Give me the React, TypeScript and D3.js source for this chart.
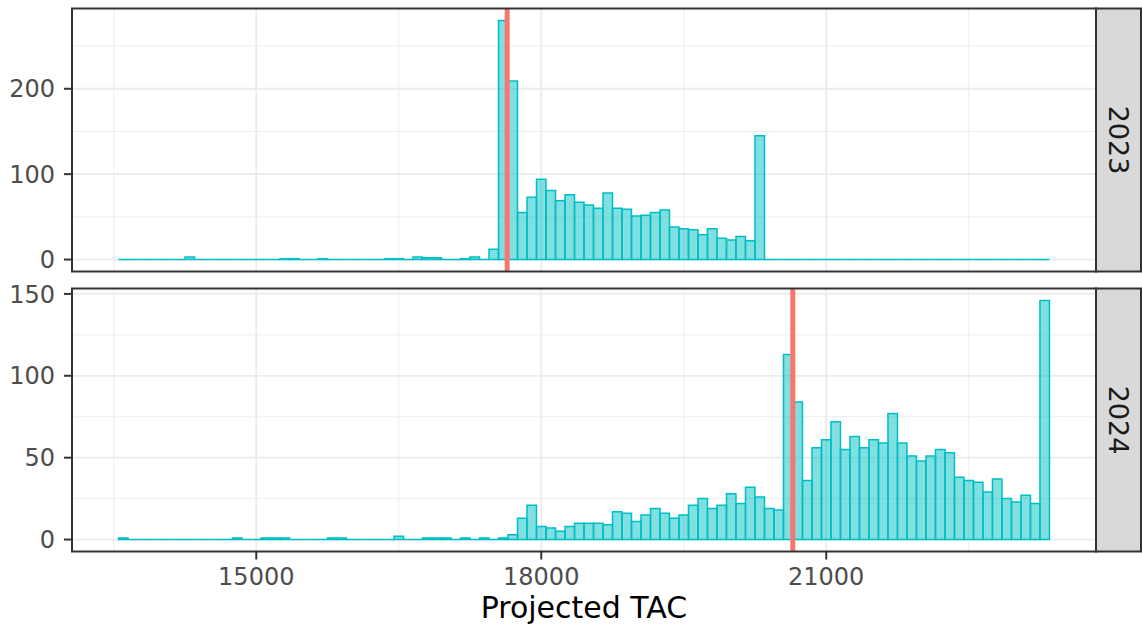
import React, { useEffect, useRef } from 'react';
import * as d3 from 'd3';

// histogram bins: 100 wide, first edge at 13550
const binStart = 13550;
const binWidth = 100;

// counts per bin, 98 bins
const counts2023 = [
  0, 0, 0, 0, 0, 0, 0, 3, 0, 0,
  0, 0, 0, 0, 0, 0, 0, 1, 1, 0,
  0, 1, 0, 0, 0, 0, 0, 0, 1, 1,
  0, 3, 2, 2, 0, 0, 1, 3, 0, 12,
  280, 209, 55, 73, 94, 81, 69, 76, 67, 64,
  60, 78, 60, 59, 51, 52, 55, 58, 38, 36,
  35, 29, 36, 25, 23, 27, 22, 145, 0, 0,
  0, 0, 0, 0, 0, 0, 0, 0, 0, 0,
  0, 0, 0, 0, 0, 0, 0, 0, 0, 0,
  0, 0, 0, 0, 0, 0, 0, 0
];

const counts2024 = [
  1, 0, 0, 0, 0, 0, 0, 0, 0, 0,
  0, 0, 1, 0, 0, 1, 1, 1, 0, 0,
  0, 0, 1, 1, 0, 0, 0, 0, 0, 2,
  0, 0, 1, 1, 1, 0, 1, 0, 1, 0,
  1, 3, 13, 21, 8, 7, 5, 8, 10, 10,
  10, 9, 17, 16, 11, 15, 19, 16, 13, 15,
  21, 25, 19, 21, 28, 22, 32, 26, 19, 18,
  113, 84, 36, 56, 61, 72, 55, 63, 56, 61,
  59, 77, 59, 51, 48, 51, 55, 53, 38, 36,
  35, 29, 37, 25, 23, 27, 22, 146
];

const years = ['2023', '2024'];
const refTAC = [17641, 20648];
const yTicks = [[0, 100, 200], [0, 50, 100, 150]];
const yMinor = [[50, 150, 250], [25, 75, 125]];
const xTicks = [15000, 18000, 21000];
const xMinor = [13500, 16500, 19500, 22500];

export default function App() {
  const ref = useRef<SVGSVGElement>(null);

  useEffect(() => {
    const svg = d3.select(ref.current);
    svg.selectAll('*').remove();

    const font = 'DejaVu Sans, sans-serif';
    const left = 72, right = 1096, stripW = 45;
    const panels = [{ top: 8.5, bottom: 271.5 }, { top: 288.5, bottom: 551.5 }];
    const data = [counts2023, counts2024];

    const lo = binStart;
    const hi = binStart + binWidth * counts2023.length;
    const pad = (hi - lo) * 0.05;
    const x = d3.scaleLinear().domain([lo - pad, hi + pad]).range([left, right]);

    panels.forEach((p, i) => {
      const counts = data[i];
      const mx = d3.max(counts) as number;
      const y = d3.scaleLinear().domain([-mx * 0.05, mx * 1.05]).range([p.bottom, p.top]);
      const g = svg.append('g');

      g.append('rect').attr('x', left).attr('y', p.top)
        .attr('width', right - left).attr('height', p.bottom - p.top).attr('fill', 'white');

      // grid
      yMinor[i].filter(v => y(v) > p.top).forEach(v => {
        g.append('line').attr('x1', left).attr('x2', right).attr('y1', y(v)).attr('y2', y(v))
          .attr('stroke', '#EBEBEB').attr('stroke-width', 0.9);
      });
      xMinor.forEach(v => {
        g.append('line').attr('x1', x(v)).attr('x2', x(v)).attr('y1', p.top).attr('y2', p.bottom)
          .attr('stroke', '#EBEBEB').attr('stroke-width', 0.9);
      });
      yTicks[i].forEach(v => {
        g.append('line').attr('x1', left).attr('x2', right).attr('y1', y(v)).attr('y2', y(v))
          .attr('stroke', '#EBEBEB').attr('stroke-width', 1.8);
      });
      xTicks.forEach(v => {
        g.append('line').attr('x1', x(v)).attr('x2', x(v)).attr('y1', p.top).attr('y2', p.bottom)
          .attr('stroke', '#EBEBEB').attr('stroke-width', 1.8);
      });

      // bars (paths so empty bins still draw a flat outline)
      g.selectAll('path.bar').data(counts).join('path').attr('class', 'bar')
        .attr('d', (d, k) => {
          const x0 = x(binStart + k * binWidth), x1 = x(binStart + (k + 1) * binWidth);
          return `M${x0},${y(0)}V${y(d)}H${x1}V${y(0)}Z`;
        })
        .attr('fill', '#00BFC4').attr('fill-opacity', 0.5)
        .attr('stroke', '#00BFC4').attr('stroke-width', 1.5);

      // reference line
      g.append('line').attr('x1', x(refTAC[i])).attr('x2', x(refTAC[i]))
        .attr('y1', p.top).attr('y2', p.bottom)
        .attr('stroke', '#F8766D').attr('stroke-width', 5);

      // border
      g.append('rect').attr('x', left).attr('y', p.top)
        .attr('width', right - left).attr('height', p.bottom - p.top)
        .attr('fill', 'none').attr('stroke', '#333333').attr('stroke-width', 2);

      // strip
      g.append('rect').attr('x', right).attr('y', p.top)
        .attr('width', stripW).attr('height', p.bottom - p.top)
        .attr('fill', '#D9D9D9').attr('stroke', '#333333').attr('stroke-width', 2);
      const cy = (p.top + p.bottom) / 2;
      g.append('text').attr('transform', `translate(${right + stripW / 2},${cy}) rotate(90)`)
        .attr('text-anchor', 'middle').attr('dy', '0.36em')
        .attr('font-family', font).attr('font-size', 27).attr('fill', '#1A1A1A')
        .text(years[i]);

      // y axis
      yTicks[i].forEach(v => {
        g.append('line').attr('x1', left - 8).attr('x2', left).attr('y1', y(v)).attr('y2', y(v))
          .attr('stroke', '#333333').attr('stroke-width', 2);
        g.append('text').attr('x', 55).attr('y', y(v)).attr('dy', '0.36em')
          .attr('text-anchor', 'end').attr('font-family', font).attr('font-size', 24)
          .attr('fill', '#4D4D4D').text(v);
      });
    });

    // x axis
    const base = panels[1].bottom;
    xTicks.forEach(v => {
      svg.append('line').attr('x1', x(v)).attr('x2', x(v)).attr('y1', base).attr('y2', base + 8)
        .attr('stroke', '#333333').attr('stroke-width', 2);
      svg.append('text').attr('x', x(v)).attr('y', 585).attr('text-anchor', 'middle')
        .attr('font-family', font).attr('font-size', 24).attr('fill', '#4D4D4D').text(v);
    });
    svg.append('text').attr('x', (left + right) / 2).attr('y', 618).attr('text-anchor', 'middle')
      .attr('font-family', font).attr('font-size', 30).attr('fill', 'black').text('Projected TAC');
  }, []);

  return (
    <svg ref={ref} width={1142} height={626}
      style={{ position: 'absolute', left: 0, top: 0, background: 'white' }} />
  );
}
